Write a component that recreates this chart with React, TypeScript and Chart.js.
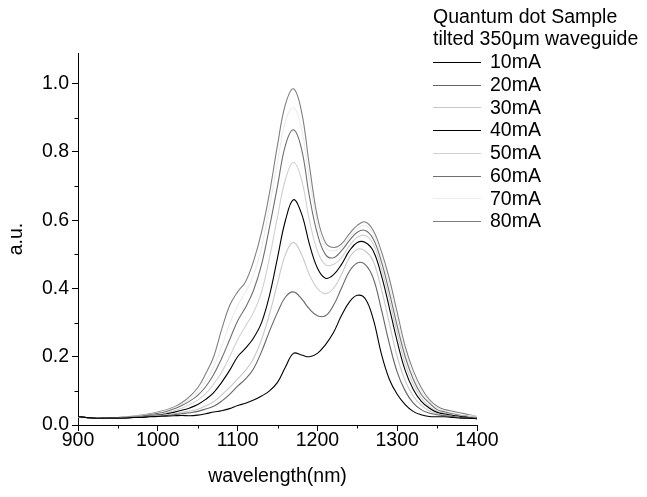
import React, { useEffect, useRef } from "react";
import { Chart, registerables } from "chart.js";

Chart.register(...registerables);

const wavelengths = [
  900, 910, 920, 930, 940, 950, 960, 970, 980, 990,
  1000, 1010, 1020, 1030, 1040, 1050, 1060, 1070, 1080, 1090,
  1100, 1110, 1120, 1130, 1140, 1150, 1160, 1170, 1180, 1190,
  1200, 1210, 1220, 1230, 1240, 1250, 1260, 1270, 1280, 1290,
  1300, 1310, 1320, 1330, 1340, 1350, 1360, 1370, 1380, 1390, 1400,
];

const s10mA = [
  0.025, 0.022, 0.02, 0.02, 0.02, 0.02, 0.02, 0.022, 0.022, 0.024,
  0.025, 0.026, 0.027, 0.028, 0.027, 0.029, 0.033, 0.038, 0.042, 0.048,
  0.057, 0.064, 0.073, 0.085, 0.1, 0.125, 0.17, 0.21, 0.205, 0.2,
  0.21, 0.235, 0.27, 0.32, 0.36, 0.38, 0.37, 0.31, 0.21, 0.135,
  0.09, 0.06, 0.04, 0.03, 0.025, 0.024, 0.024, 0.022, 0.02, 0.02, 0.018,
];
const s20mA = [
  0.025, 0.022, 0.021, 0.02, 0.021, 0.02, 0.022, 0.022, 0.024, 0.025,
  0.026, 0.028, 0.03, 0.033, 0.036, 0.04, 0.047, 0.055, 0.07, 0.09,
  0.114, 0.135, 0.165, 0.215, 0.275, 0.33, 0.375, 0.39, 0.37, 0.34,
  0.32, 0.32, 0.35, 0.4, 0.45, 0.475, 0.47, 0.43, 0.34, 0.24,
  0.155, 0.1, 0.065, 0.045, 0.035, 0.03, 0.027, 0.025, 0.022, 0.02, 0.02,
];
const s30mA = [
  0.024, 0.022, 0.021, 0.022, 0.021, 0.021, 0.022, 0.023, 0.024, 0.026,
  0.028, 0.03, 0.033, 0.037, 0.041, 0.046, 0.056, 0.068, 0.088, 0.11,
  0.135, 0.16, 0.195, 0.25, 0.325, 0.415, 0.5, 0.535, 0.5, 0.44,
  0.4, 0.385, 0.4, 0.44, 0.49, 0.515, 0.51, 0.48, 0.4, 0.3,
  0.2, 0.13, 0.085, 0.058, 0.042, 0.033, 0.028, 0.025, 0.022, 0.02, 0.02,
];
const s40mA = [
  0.024, 0.022, 0.02, 0.021, 0.022, 0.021, 0.022, 0.023, 0.025, 0.027,
  0.029, 0.032, 0.037, 0.043, 0.05, 0.06, 0.075, 0.095, 0.125, 0.16,
  0.2, 0.225, 0.255, 0.3, 0.38, 0.49, 0.6, 0.66, 0.62, 0.53,
  0.46, 0.43, 0.44, 0.47, 0.51, 0.535, 0.535, 0.51, 0.44, 0.345,
  0.245, 0.16, 0.105, 0.07, 0.05, 0.037, 0.032, 0.028, 0.025, 0.022, 0.02,
];
const s50mA = [
  0.025, 0.022, 0.021, 0.022, 0.022, 0.021, 0.023, 0.024, 0.026, 0.028,
  0.031, 0.035, 0.041, 0.049, 0.06, 0.073, 0.092, 0.12, 0.155, 0.2,
  0.25, 0.29, 0.33, 0.39, 0.49, 0.61, 0.72, 0.77, 0.72, 0.6,
  0.51, 0.47, 0.47, 0.49, 0.525, 0.55, 0.555, 0.53, 0.46, 0.37,
  0.27, 0.18, 0.12, 0.08, 0.055, 0.04, 0.035, 0.03, 0.027, 0.025, 0.022,
];
const s60mA = [
  0.025, 0.022, 0.021, 0.022, 0.022, 0.022, 0.023, 0.025, 0.027, 0.03,
  0.034, 0.039, 0.047, 0.057, 0.07, 0.087, 0.112, 0.148, 0.195, 0.25,
  0.305, 0.345, 0.395, 0.47, 0.58, 0.7, 0.82, 0.865, 0.81, 0.67,
  0.56, 0.5, 0.49, 0.51, 0.54, 0.565, 0.57, 0.545, 0.48, 0.39,
  0.29, 0.2, 0.135, 0.09, 0.065, 0.045, 0.038, 0.032, 0.028, 0.025, 0.022,
];
const s70mA = [
  0.022, 0.02, 0.02, 0.022, 0.022, 0.022, 0.023, 0.025, 0.028, 0.031,
  0.036, 0.042, 0.05, 0.061, 0.077, 0.097, 0.128, 0.17, 0.23, 0.295,
  0.35, 0.39, 0.44, 0.52, 0.64, 0.77, 0.89, 0.93, 0.87, 0.72,
  0.59, 0.52, 0.51, 0.52, 0.55, 0.575, 0.585, 0.56, 0.495, 0.41,
  0.31, 0.215, 0.15, 0.1, 0.07, 0.05, 0.04, 0.035, 0.03, 0.028, 0.025,
];
const s80mA = [
  0.025, 0.022, 0.02, 0.022, 0.022, 0.022, 0.024, 0.026, 0.029, 0.033,
  0.038, 0.044, 0.052, 0.065, 0.084, 0.109, 0.15, 0.2, 0.28, 0.35,
  0.39, 0.42, 0.48, 0.565, 0.68, 0.82, 0.94, 0.985, 0.92, 0.76,
  0.61, 0.535, 0.52, 0.53, 0.56, 0.585, 0.595, 0.57, 0.51, 0.43,
  0.33, 0.23, 0.16, 0.11, 0.075, 0.055, 0.045, 0.04, 0.035, 0.03, 0.025,
];

const seriesLabels = ["10mA", "20mA", "30mA", "40mA", "50mA", "60mA", "70mA", "80mA"];
const seriesValues = [s10mA, s20mA, s30mA, s40mA, s50mA, s60mA, s70mA, s80mA];
const seriesColors = ["#000000", "#666666", "#c8c8c8", "#000000", "#d0d0d0", "#707070", "#ececec", "#808080"];

const legendTitle = ["Quantum dot Sample", "tilted 350\u03bcm waveguide"];
const xTicks = [900, 1000, 1100, 1200, 1300, 1400];
const xMinorTicks = [950, 1050, 1150, 1250, 1350];
const yMinorTicks = [0.1, 0.3, 0.5, 0.7, 0.9];

const FONT = "'Liberation Sans', Arial, Helvetica, sans-serif";
const FS = 19.5;

const extrasPlugin = {
  id: "extras",
  afterDraw(chart: any) {
    const ctx = chart.ctx;
    const xs = chart.scales.x;
    const ys = chart.scales.y;
    const area = chart.chartArea;
    ctx.save();
    ctx.strokeStyle = "#000";
    ctx.lineWidth = 1;
    ctx.beginPath();
    xMinorTicks.forEach((v) => {
      const px = Math.round(xs.getPixelForValue(v)) + 0.5;
      ctx.moveTo(px, area.bottom);
      ctx.lineTo(px, area.bottom + 3.5);
    });
    yMinorTicks.forEach((v) => {
      const py = Math.round(ys.getPixelForValue(v)) + 0.5;
      ctx.moveTo(area.left, py);
      ctx.lineTo(area.left - 3.5, py);
    });
    ctx.stroke();

    // legend
    ctx.font = `${FS}px ${FONT}`;
    ctx.fillStyle = "#000";
    ctx.textBaseline = "middle";
    ctx.textAlign = "left";
    const lx = 433;
    ctx.fillText(legendTitle[0], lx, 18);
    ctx.fillText(legendTitle[1], lx, 40);
    seriesLabels.forEach((lab, i) => {
      const y = 62 + i * 22.7;
      ctx.strokeStyle = seriesColors[i];
      ctx.lineWidth = 1.2;
      ctx.beginPath();
      ctx.moveTo(lx, Math.round(y) + 0.5);
      ctx.lineTo(lx + 48, Math.round(y) + 0.5);
      ctx.stroke();
      ctx.fillStyle = "#000";
      ctx.fillText(lab, lx + 57, y + 1);
    });
    ctx.restore();
  },
};

export default function App() {
  const ref = useRef<HTMLCanvasElement | null>(null);
  useEffect(() => {
    document.body.style.margin = "0";
    Chart.defaults.font.family = FONT;
    const canvas = ref.current;
    if (!canvas) return;
    const chart = new Chart(canvas, {
      type: "line",
      data: {
        labels: wavelengths,
        datasets: seriesLabels.map((lab, i) => ({
          label: lab,
          data: wavelengths.map((w, j) => ({ x: w, y: seriesValues[i][j] })),
          borderColor: seriesColors[i],
          backgroundColor: seriesColors[i],
          borderWidth: 1.1,
          pointRadius: 0,
          tension: 0.4,
          fill: false,
        })),
      },
      options: {
        responsive: false,
        animation: false,
        layout: { padding: { top: 53, right: 170, left: 0, bottom: 0 } },
        plugins: { legend: { display: false }, tooltip: { enabled: false } },
        scales: {
          x: {
            type: "linear",
            min: 900,
            max: 1400,
            afterFit: (s: any) => { s.height = 72; },
            afterBuildTicks: (s: any) => { s.ticks = xTicks.map((v) => ({ value: v })); },
            ticks: { color: "#000", font: { size: FS }, padding: -2, maxRotation: 0, callback: (v: any) => String(v) },
            grid: { drawOnChartArea: false, color: "#000", tickLength: 6 },
            border: { color: "#000", width: 1 },
            title: { display: true, text: "wavelength(nm)", color: "#000", font: { size: FS }, padding: { top: 0, bottom: 9 } },
          },
          y: {
            type: "linear",
            min: 0,
            max: 1.09,
            afterFit: (s: any) => { s.width = 78; },
            ticks: { stepSize: 0.2, includeBounds: false, color: "#000", font: { size: FS }, padding: 3, callback: (v: any) => Number(v).toFixed(1) },
            grid: { drawOnChartArea: false, color: "#000", tickLength: 6 },
            border: { color: "#000", width: 1 },
            title: { display: true, text: "a.u.", color: "#000", font: { size: FS }, padding: { top: 5, bottom: 0 } },
          },
        },
      },
      plugins: [extrasPlugin],
    });
    return () => chart.destroy();
  }, []);
  return (
    <div style={{ width: 647, height: 497, background: "#fff" }}>
      <canvas ref={ref} width={647} height={497} style={{ display: "block" }} />
    </div>
  );
}
